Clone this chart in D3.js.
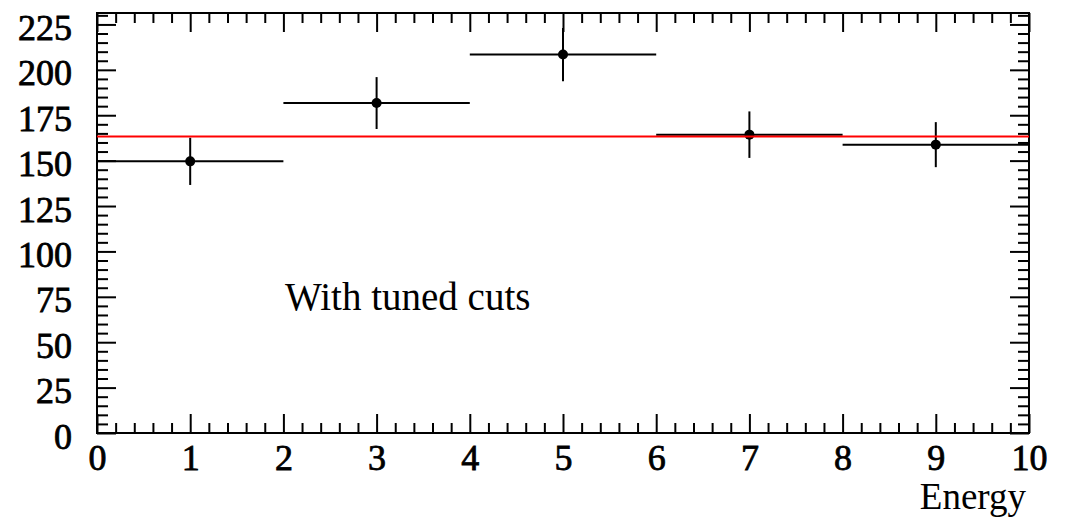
<!DOCTYPE html>
<html><head><meta charset="utf-8">
<script src="https://cdn.jsdelivr.net/npm/d3@7"></script>
<style>
html,body{margin:0;padding:0;background:#fff;}
svg{display:block;}
text{font-family:"Liberation Serif","Times New Roman",serif;fill:#000;}
</style></head>
<body>
<script>
// ---- data ----
const binCenters = [1, 3, 5, 7, 9];
const binLow = [0, 2, 4, 6, 8];
const binHigh = [2, 4, 6, 8, 10];
const counts = [149.6, 181.7, 208.4, 164.3, 158.8];
const errors = [13.0, 14.3, 14.7, 12.8, 12.4];
const fitConstant = 163.3;
const xTicks = [0,1,2,3,4,5,6,7,8,9,10];
const yTicks = [0,25,50,75,100,125,150,175,200,225];
const xTitle = "Energy";
const annotation = "With tuned cuts";

const W = 1065, H = 518;
const L = 97, R = 1029, T = 13, B = 433;

const svg = d3.select("body").append("svg").attr("width", W).attr("height", H);
const x = d3.scaleLinear().domain([0, 10]).range([L, R]);
const y = d3.scaleLinear().domain([0, 231.3]).range([B, T]);

const xMinor = d3.range(0, 10.001, 0.2).map(v => +v.toFixed(2)).filter(v => Math.abs(v - Math.round(v)) > 1e-6);
const yMinor = d3.range(0, 231, 5).filter(v => v % 25 !== 0);

function styleAxis(g) {
  g.select(".domain").remove();
  g.selectAll("line").attr("stroke", "#000").attr("stroke-width", 2);
}
function styleLabels(g) {
  g.selectAll("text").attr("font-size", 36).attr("stroke", "#000").attr("stroke-width", 0.8);
}

// bottom axis
svg.append("g").attr("transform", `translate(0,${B})`)
  .call(d3.axisBottom(x).tickValues(xTicks).tickSizeInner(-19).tickSizeOuter(0).tickPadding(0).tickFormat(d3.format("d")))
  .call(styleAxis)
  .call(styleLabels)
  .call(g => g.selectAll("text").attr("dy", null).attr("y", 37));
svg.append("g").attr("transform", `translate(0,${B})`)
  .call(d3.axisBottom(x).tickValues(xMinor).tickSizeInner(-10).tickSizeOuter(0).tickFormat(""))
  .call(styleAxis);
// top axis
svg.append("g").attr("transform", `translate(0,${T})`)
  .call(d3.axisTop(x).tickValues(xTicks).tickSizeInner(-19).tickSizeOuter(0).tickFormat(""))
  .call(styleAxis);
svg.append("g").attr("transform", `translate(0,${T})`)
  .call(d3.axisTop(x).tickValues(xMinor).tickSizeInner(-10).tickSizeOuter(0).tickFormat(""))
  .call(styleAxis);
// left axis
svg.append("g").attr("transform", `translate(${L},0)`)
  .call(d3.axisLeft(y).tickValues(yTicks).tickSizeInner(-19).tickSizeOuter(0).tickPadding(25).tickFormat(d3.format("d")))
  .call(styleAxis)
  .call(styleLabels)
  .call(g => g.selectAll("text").attr("dy", null).attr("y", 15));
svg.append("g").attr("transform", `translate(${L},0)`)
  .call(d3.axisLeft(y).tickValues(yMinor).tickSizeInner(-11).tickSizeOuter(0).tickFormat(""))
  .call(styleAxis);
// right axis
svg.append("g").attr("transform", `translate(${R},0)`)
  .call(d3.axisRight(y).tickValues(yTicks).tickSizeInner(-19).tickSizeOuter(0).tickFormat(""))
  .call(styleAxis);
svg.append("g").attr("transform", `translate(${R},0)`)
  .call(d3.axisRight(y).tickValues(yMinor).tickSizeInner(-11).tickSizeOuter(0).tickFormat(""))
  .call(styleAxis);

// frame
svg.append("rect").attr("x", L).attr("y", T).attr("width", R - L).attr("height", B - T)
  .attr("fill", "none").attr("stroke", "#000").attr("stroke-width", 2);

// data
const pts = binCenters.map((c, i) => ({c, lo: binLow[i], hi: binHigh[i], v: counts[i], e: errors[i]}));
const gd = svg.append("g");
gd.selectAll("line.h").data(pts).join("line").attr("class", "h")
  .attr("x1", d => x(d.lo)).attr("x2", d => x(d.hi)).attr("y1", d => y(d.v)).attr("y2", d => y(d.v))
  .attr("stroke", "#000").attr("stroke-width", 2);
gd.selectAll("line.v").data(pts).join("line").attr("class", "v")
  .attr("x1", d => x(d.c)).attr("x2", d => x(d.c)).attr("y1", d => y(d.v - d.e)).attr("y2", d => y(d.v + d.e))
  .attr("stroke", "#000").attr("stroke-width", 2);
gd.selectAll("circle").data(pts).join("circle")
  .attr("cx", d => x(d.c)).attr("cy", d => y(d.v)).attr("r", 5).attr("fill", "#000");

// fit line
svg.append("line").attr("x1", x(0)).attr("x2", x(10)).attr("y1", y(fitConstant)).attr("y2", y(fitConstant))
  .attr("stroke", "#ff0000").attr("stroke-width", 2);

// texts
svg.append("text").attr("x", R - 3).attr("y", 509).attr("text-anchor", "end").attr("font-size", 37).text(xTitle);
svg.append("text").attr("x", 285).attr("y", 310).attr("font-size", 39).text(annotation);
</script>
</body></html>
